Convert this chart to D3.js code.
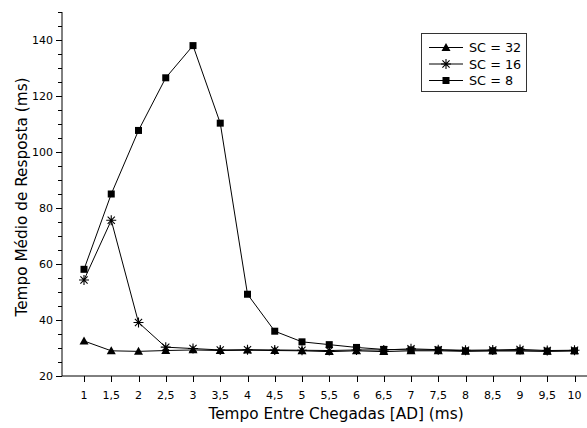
<!DOCTYPE html>
<html>
<head>
<meta charset="utf-8">
<script src="https://cdn.jsdelivr.net/npm/d3@7"></script>
<style>
  html, body { margin: 0; padding: 0; background: #fff; }
  svg { display: block; }
  text { font-family: "DejaVu Sans", Verdana, sans-serif; fill: #000; }
</style>
</head>
<body>
<svg id="chart" width="587" height="428"></svg>
<script>
const xValues = [1, 1.5, 2, 2.5, 3, 3.5, 4, 4.5, 5, 5.5, 6, 6.5, 7, 7.5, 8, 8.5, 9, 9.5, 10];
const xTickLabels = ["1", "1,5", "2", "2,5", "3", "3,5", "4", "4,5", "5", "5,5", "6", "6,5", "7", "7,5", "8", "8,5", "9", "9,5", "10"];
const sc32 = [32.5, 29, 28.8, 29.1, 29.3, 29.1, 29.2, 29.1, 29, 28.7, 29, 28.7, 29, 29, 28.8, 29, 29, 28.8, 29];
const sc16 = [54.3, 75.6, 39.1, 30.3, 29.8, 29.3, 29.4, 29.3, 29.2, 29.1, 29.3, 29.3, 29.7, 29.4, 29.2, 29.3, 29.5, 29.1, 29.2];
const sc8 = [58.1, 85, 107.7, 126.5, 138, 110.3, 49.2, 36, 32.2, 31.2, 30.2, 29.5, 29.3, 29.3, 29, 29, 29, 28.9, 29];
const yMajorTicks = [20, 40, 60, 80, 100, 120, 140];
const seriesNames = ["SC = 32", "SC = 16", "SC = 8"];
const seriesMarkers = ["triangle", "asterisk", "square"];
const xTitle = "Tempo Entre Chegadas [AD] (ms)";
const yTitle = "Tempo Médio de Resposta (ms)";

const series = [
  { name: seriesNames[0], values: sc32, marker: seriesMarkers[0] },
  { name: seriesNames[1], values: sc16, marker: seriesMarkers[1] },
  { name: seriesNames[2], values: sc8, marker: seriesMarkers[2] }
];

const svg = d3.select("#chart");
const axisLeftX = 62, axisRightX = 587, axisBottomY = 376, axisTopY = 12;

const x = d3.scaleLinear().domain([1, 10]).range([84, 574.5]);
const y = d3.scaleLinear().domain([20, 150]).range([axisBottomY, axisTopY]);

// Y axis
const yAxisG = svg.append("g").attr("transform", `translate(${axisLeftX},0)`);
yAxisG.append("line").attr("x1", 0).attr("x2", 0).attr("y1", axisTopY).attr("y2", axisBottomY)
  .attr("stroke", "#000").attr("stroke-width", 1);
const minorTicks = d3.range(20, 151, 5).filter(v => !yMajorTicks.includes(v));
yAxisG.selectAll("line.minor").data(minorTicks).join("line").attr("class", "minor")
  .attr("x1", -4).attr("x2", 0)
  .attr("y1", d => Math.round(y(d)) + 0.5).attr("y2", d => Math.round(y(d)) + 0.5)
  .attr("stroke", "#000");
yAxisG.selectAll("line.major").data(yMajorTicks).join("line").attr("class", "major")
  .attr("x1", -6).attr("x2", 0)
  .attr("y1", d => Math.round(y(d)) + 0.5).attr("y2", d => Math.round(y(d)) + 0.5)
  .attr("stroke", "#000");
yAxisG.selectAll("text").data(yMajorTicks).join("text")
  .attr("x", -9).attr("y", d => y(d) + 4)
  .attr("text-anchor", "end").attr("font-size", 11)
  .text(d => d);

// X axis
const xAxisG = svg.append("g").attr("transform", `translate(0,${axisBottomY})`);
xAxisG.append("line").attr("x1", axisLeftX).attr("x2", axisRightX).attr("y1", 0).attr("y2", 0)
  .attr("stroke", "#000");
xAxisG.selectAll("line.tick").data(xValues).join("line").attr("class", "tick")
  .attr("x1", d => Math.round(x(d)) + 0.5).attr("x2", d => Math.round(x(d)) + 0.5)
  .attr("y1", 0).attr("y2", 6).attr("stroke", "#000");
xAxisG.selectAll("text").data(xValues).join("text")
  .attr("x", d => x(d)).attr("y", 23)
  .attr("text-anchor", "middle").attr("font-size", 11)
  .text((d, i) => xTickLabels[i]);

// Titles
svg.append("text").attr("x", 336).attr("y", 419).attr("text-anchor", "middle")
  .attr("font-size", 15.3).text(xTitle);
svg.append("text").attr("transform", "translate(26.5,197) rotate(-90)")
  .attr("text-anchor", "middle").attr("font-size", 15.3).text(yTitle);

// Marker drawing
function drawMarker(g, type, cx, cy) {
  if (type === "square") {
    g.append("rect").attr("x", cx - 3.5).attr("y", cy - 3.5).attr("width", 7).attr("height", 7).attr("fill", "#000");
  } else if (type === "triangle") {
    const r = 4.5;
    g.append("path").attr("d", `M${cx},${cy - r}L${cx + r},${cy + r * 0.75}L${cx - r},${cy + r * 0.75}Z`).attr("fill", "#000");
  } else if (type === "asterisk") {
    const r = 5;
    const d = r * 0.72;
    g.append("path")
      .attr("d", `M${cx},${cy - r}L${cx},${cy + r}M${cx - d},${cy - d}L${cx + d},${cy + d}M${cx - d},${cy + d}L${cx + d},${cy - d}M${cx - r},${cy}L${cx + r},${cy}`)
      .attr("stroke", "#000").attr("stroke-width", 1.1).attr("fill", "none");
  }
}

const line = d3.line().x(d => x(d[0])).y(d => y(d[1]));
const plotG = svg.append("g");
series.forEach(s => {
  const pts = xValues.map((xv, i) => [xv, s.values[i]]);
  plotG.append("path").datum(pts).attr("d", line)
    .attr("fill", "none").attr("stroke", "#000").attr("stroke-width", 1);
});
series.forEach(s => {
  const g = plotG.append("g");
  xValues.forEach((xv, i) => drawMarker(g, s.marker, x(xv), y(s.values[i])));
});

// Legend
const legG = svg.append("g");
legG.append("rect").attr("x", 421.5).attr("y", 33.5).attr("width", 105).attr("height", 58)
  .attr("fill", "#fff").attr("stroke", "#333").attr("stroke-width", 1);
const rowYs = [47.5, 64, 80.5];
series.forEach((s, i) => {
  const ry = rowYs[i];
  legG.append("line").attr("x1", 429).attr("x2", 463).attr("y1", ry).attr("y2", ry).attr("stroke", "#000");
  drawMarker(legG, s.marker, 446, ry);
  legG.append("text").attr("x", 469).attr("y", ry + 4.6).attr("font-size", 12.8).text(s.name);
});
</script>
</body>
</html>
